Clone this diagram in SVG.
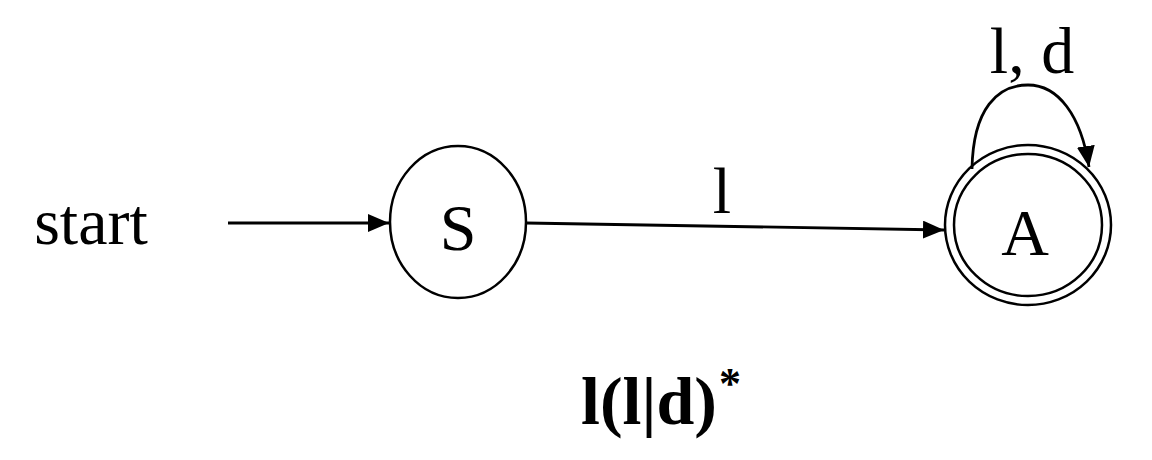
<svg xmlns="http://www.w3.org/2000/svg" width="1152" height="460" viewBox="0 0 1152 460">
<style>
.st{fill:none;stroke:#000;stroke-width:2.5}
.ln{fill:none;stroke:#000;stroke-width:2.8}
text{font-family:'Liberation Serif','Times New Roman',serif;fill:#000}
.t{font-size:66px;text-anchor:middle}
.b{font-weight:bold}
</style>
<defs>
<marker id="ah" markerUnits="userSpaceOnUse" markerWidth="24" markerHeight="20" refX="21" refY="9" orient="auto">
<path d="M0,0 L21,9 L0,18 Z" fill="#000"/>
</marker>
</defs>
<rect width="1152" height="460" fill="#fff"/>
<text class="t" x="91" y="244">start</text>
<g id="connectors">
<line class="ln" x1="228" y1="223" x2="389" y2="223" marker-end="url(#ah)"/>
<line class="ln" x1="526" y1="223" x2="944" y2="230" marker-end="url(#ah)"/>
<path class="ln" d="M972,169 C973,108 998,85 1028,85 C1058,85 1081,115 1089,167" marker-end="url(#ah)"/>
<text class="t" x="722" y="213">l</text>
<text class="t" x="1032" y="73">l, d</text>
</g>
<g id="S">
<ellipse class="st" cx="458" cy="222" rx="68" ry="76"/>
<text class="t" x="458" y="250">S</text>
</g>
<g id="A">
<ellipse class="st" cx="1028" cy="225" rx="83" ry="80"/>
<ellipse class="st" cx="1028" cy="225" rx="74" ry="71"/>
<text class="t" x="1025" y="255">A</text>
</g>
<text class="b" x="581" y="424" font-size="68">l(l|d)<tspan font-size="44" dy="-26" dx="2">*</tspan></text>
</svg>
